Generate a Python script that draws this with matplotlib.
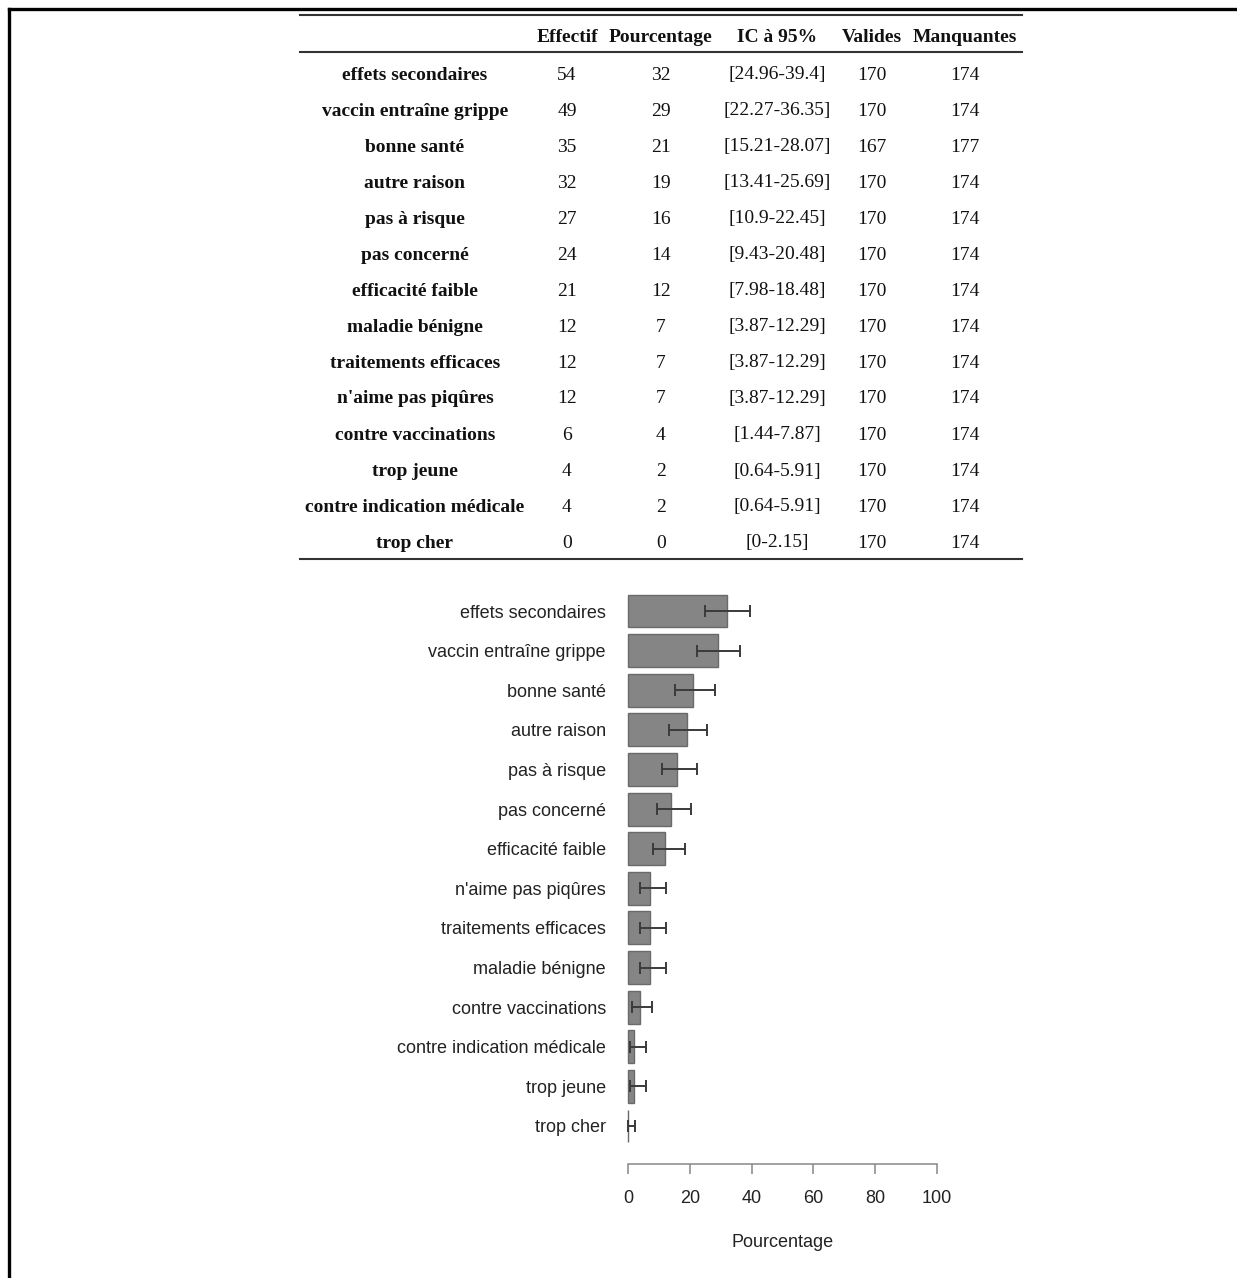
import matplotlib
matplotlib.use("Agg")
import matplotlib.pyplot as plt
from matplotlib.lines import Line2D

# Reasons for not getting vaccinated: counts, percentages and 95% CI
categories = ["effets secondaires", "vaccin entraîne grippe", "bonne santé", "autre raison",
              "pas à risque", "pas concerné", "efficacité faible", "maladie bénigne",
              "traitements efficaces", "n'aime pas piqûres", "contre vaccinations",
              "trop jeune", "contre indication médicale", "trop cher"]
effectif = [54, 49, 35, 32, 27, 24, 21, 12, 12, 12, 6, 4, 4, 0]
pourcentage = [32, 29, 21, 19, 16, 14, 12, 7, 7, 7, 4, 2, 2, 0]
ic_low = [24.96, 22.27, 15.21, 13.41, 10.9, 9.43, 7.98, 3.87, 3.87, 3.87, 1.44, 0.64, 0.64, 0]
ic_high = [39.4, 36.35, 28.07, 25.69, 22.45, 20.48, 18.48, 12.29, 12.29, 12.29, 7.87, 5.91, 5.91, 2.15]
valides = [170, 170, 167, 170, 170, 170, 170, 170, 170, 170, 170, 170, 170, 170]
manquantes = [174, 174, 177, 174, 174, 174, 174, 174, 174, 174, 174, 174, 174, 174]
headers = ["Effectif", "Pourcentage", "IC à 95%", "Valides", "Manquantes"]

# Bar chart order
chart_order = ["effets secondaires", "vaccin entraîne grippe", "bonne santé", "autre raison",
               "pas à risque", "pas concerné", "efficacité faible", "n'aime pas piqûres",
               "traitements efficaces", "maladie bénigne", "contre vaccinations",
               "contre indication médicale", "trop jeune", "trop cher"]
x_ticks = [0, 20, 40, 60, 80, 100]

W, H = 1237, 1278
fig = plt.figure(figsize=(W / 100, H / 100), dpi=100)
fig.patch.set_facecolor("white")

def fx(px):
    return px / W

def fy(py):
    return 1 - py / H

# Outer frame (top and left edges)
fig.add_artist(Line2D([fx(9), 1.0], [fy(9), fy(9)], color="black", lw=2.4, transform=fig.transFigure))
fig.add_artist(Line2D([fx(9), fx(9)], [fy(9), 0.0], color="black", lw=2.4, transform=fig.transFigure))

# ---------- Table ----------
serif = ["Liberation Serif", "DejaVu Serif"]
tab_left, tab_right = 300, 1022
col_x = [415, 567, 661, 777, 872, 965]
header_y = 36
row_y0, row_dy = 73, 36.0

for px_y in (15, 52, 559):
    fig.add_artist(Line2D([fx(tab_left), fx(tab_right)], [fy(px_y), fy(px_y)],
                          color="#333333", lw=1.5, transform=fig.transFigure))

for h, cx in zip(headers, col_x[1:]):
    fig.text(fx(cx), fy(header_y), h, ha="center", va="center_baseline", family=serif,
             fontsize=14, fontweight="bold", color="#111111")

for i, cat in enumerate(categories):
    y = fy(row_y0 + i * row_dy)
    cells = [str(effectif[i]), str(pourcentage[i]),
             "[%s-%s]" % (("%g" % ic_low[i]), ("%g" % ic_high[i])),
             str(valides[i]), str(manquantes[i])]
    fig.text(fx(col_x[0]), y, cat, ha="center", va="center_baseline", family=serif,
             fontsize=14, fontweight="bold", color="#111111")
    for c, cx in zip(cells, col_x[1:]):
        fig.text(fx(cx), y, c, ha="center", va="center_baseline", family=serif,
                 fontsize=14, color="#111111")

# ---------- Bar chart ----------
sans = ["Liberation Sans", "DejaVu Sans"]
x0_px, x100_px = 628, 937
first_y, last_y = 611, 1126
n = len(chart_order)
step = (last_y - first_y) / (n - 1)
ax_top = first_y - step / 2
ax_bot = last_y + step / 2
ax = fig.add_axes([fx(x0_px), fy(ax_bot), (x100_px - x0_px) / W, (ax_bot - ax_top) / H])

idx = [categories.index(c) for c in chart_order]
vals = [pourcentage[i] for i in idx]
lo = [ic_low[i] for i in idx]
hi = [ic_high[i] for i in idx]
ypos = list(range(n))

ax.barh(ypos, vals, height=0.83, color="#858585", edgecolor="#6a6a6a", linewidth=1.0,
        zorder=2, clip_on=False)
err = [[v - l for v, l in zip(vals, lo)], [h - v for v, h in zip(vals, hi)]]
ax.errorbar(vals, ypos, xerr=err, fmt="none", ecolor="#3a3a3a", elinewidth=1.4,
            capsize=4.5, capthick=1.4, zorder=3, clip_on=False)

for s in ("top", "right", "left"):
    ax.spines[s].set_visible(False)
ax.spines["bottom"].set_position(("outward", 13))
ax.spines["bottom"].set_color("#888888")
ax.spines["bottom"].set_linewidth(1.1)
ax.set_facecolor("none")

ax.set_xlim(0, 100)
ax.set_ylim(n - 0.5, -0.5)
ax.set_yticks(ypos)
ax.set_yticklabels(chart_order, family=sans, fontsize=13, color="#222222")
ax.tick_params(axis="y", length=0, pad=16)

ax.set_xticks(x_ticks)
ax.set_xticklabels([str(t) for t in x_ticks], family=sans, fontsize=13, color="#222222")
ax.tick_params(axis="x", direction="out", length=7.5, width=1.1, color="#888888", pad=11.5)
ax.spines["bottom"].set_bounds(0, 100)
ax.set_xlabel("Pourcentage", family=sans, fontsize=13, color="#222222", labelpad=19)

fig.savefig("out.png", dpi=100, facecolor="white")
